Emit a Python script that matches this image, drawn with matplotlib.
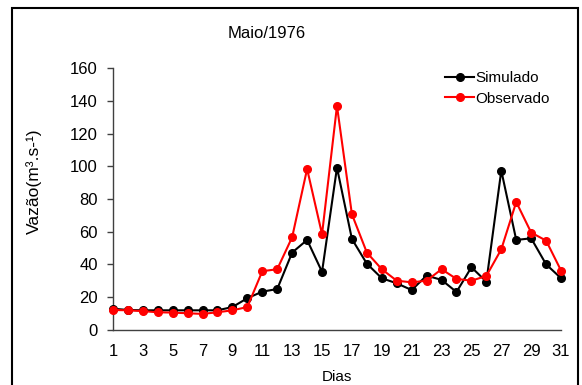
import matplotlib.pyplot as plt
from matplotlib.patches import Rectangle

dias = list(range(1, 32))
simulado = [13, 12.2, 12, 12, 12, 12, 12, 12, 14, 19.4, 23.4, 25, 47.3, 55, 35.5, 99.2,
            55.6, 40.5, 31.6, 28.5, 24.4, 33.2, 30.6, 23.2, 38.3, 29.5, 97.4, 55, 56, 40.1, 31.6]
observado = [12.2, 12, 11.5, 10.8, 10.6, 10.2, 9.8, 10.8, 12, 14, 35.9, 37.1, 56.7, 98.4, 58.5, 136.9,
             70.7, 47.3, 37.1, 30.1, 29.1, 30.1, 37.1, 31.2, 30.1, 33, 49.3, 78.2, 59.5, 54.6, 36.3]
xticks = list(range(1, 32, 2))
yticks = list(range(0, 161, 20))

plt.rcParams['font.family'] = ['Liberation Sans', 'DejaVu Sans']

fig = plt.figure(figsize=(5.82, 3.85), dpi=100)
ax = fig.add_axes([0.194, 0.143, 0.77, 0.68])

ax.plot(dias, simulado, color='black', marker='o', markersize=5.5, lw=1.5,
        label='Simulado', clip_on=False, zorder=3)
ax.plot(dias, observado, color='#ff0000', marker='o', markersize=5.5, lw=1.5,
        label='Observado', clip_on=False, zorder=4)

ax.set_xlim(1, 31)
ax.set_ylim(0, 160)
ax.set_xticks(xticks)
ax.set_yticks(yticks)
ax.tick_params(axis='x', length=0, labelsize=12, pad=10)
ax.tick_params(axis='y', length=4, width=1, labelsize=12, pad=7, color='#404040')
for s in ['top', 'right']:
    ax.spines[s].set_visible(False)
for s in ['left', 'bottom']:
    ax.spines[s].set_color('#404040')
    ax.spines[s].set_linewidth(1)

ax.set_xlabel('Dias', fontsize=11, labelpad=8)
ax.set_ylabel('Vazão(m³.s-¹)', fontsize=12.5)
ax.yaxis.set_label_coords(-0.158, 0.569)

leg = ax.legend(loc='upper right', bbox_to_anchor=(1.006, 1.042), frameon=False,
                fontsize=11, handlelength=1.9, handletextpad=0.1, labelspacing=0.45)

fig.text(0.459, 0.914, 'Maio/1976', ha='center', va='center', fontsize=12)

# moldura externa
fig.patches.append(Rectangle((0.0206, -0.05), 0.972, 1.029, transform=fig.transFigure,
                             fill=False, edgecolor='black', lw=1.5))

fig.savefig('out.png', dpi=100)
